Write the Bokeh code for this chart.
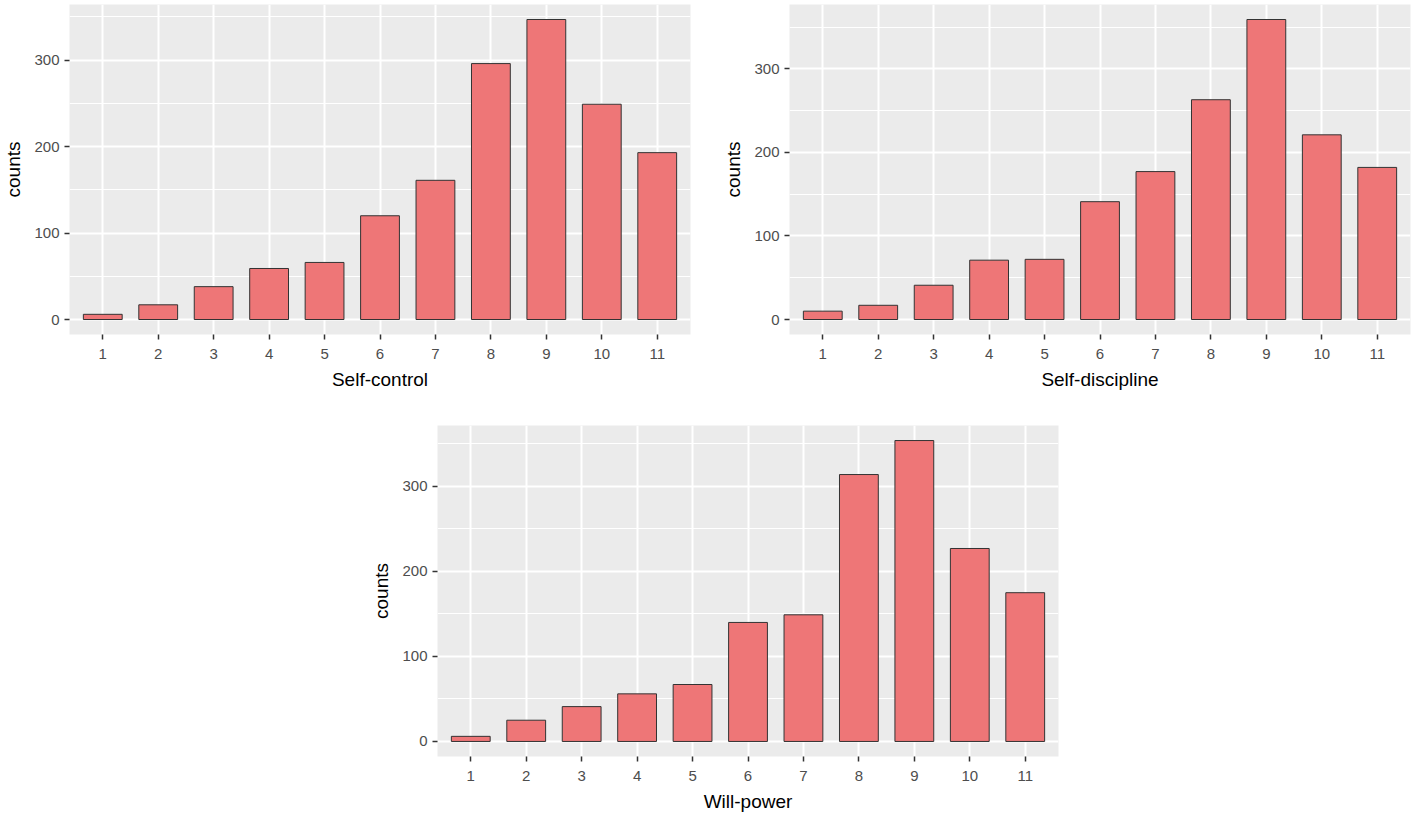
from bokeh.plotting import figure
from bokeh.layouts import column, row
from bokeh.models import Range1d, FixedTicker, Spacer
from bokeh.embed import file_html
from bokeh.resources import INLINE

# ---- data ----
scores = [1, 2, 3, 4, 5, 6, 7, 8, 9, 10, 11]
score_labels = ["1", "2", "3", "4", "5", "6", "7", "8", "9", "10", "11"]
self_control = [6, 17, 38, 59, 66, 120, 161, 296, 347, 249, 193]
self_discipline = [10, 17, 41, 71, 72, 141, 177, 263, 359, 221, 182]
will_power = [6, 25, 41, 56, 67, 140, 149, 314, 354, 227, 175]
y_ticks = [0, 100, 200, 300]
y_minor = [50, 150, 250, 350]

FONT = "Liberation Sans"
BAR_FILL = "#EE7677"
BAR_LINE = "#333333"
PANEL_BG = "#EBEBEB"


def make_panel(values, xlabel, left, right, top, bottom, fh):
    vmax = max(values)
    p = figure(
        frame_width=621, frame_height=fh,
        output_backend="svg", toolbar_location=None,
        x_range=Range1d(0.4, 11.6),
        y_range=Range1d(-0.05 * vmax, 1.05 * vmax),
        min_border_left=left, min_border_right=right,
        min_border_top=top, min_border_bottom=bottom,
    )
    p.background_fill_color = PANEL_BG
    p.border_fill_color = "white"
    p.outline_line_color = None

    p.vbar(x=scores, top=values, bottom=0, width=0.7,
           fill_color=BAR_FILL, line_color=BAR_LINE, line_width=1)

    p.xaxis.ticker = FixedTicker(ticks=scores)
    p.xaxis.major_label_overrides = {s: l for s, l in zip(scores, score_labels)}
    p.yaxis.ticker = FixedTicker(ticks=y_ticks, minor_ticks=y_minor)

    for ax in (p.xaxis, p.yaxis):
        ax.axis_line_color = None
        ax.major_tick_line_color = "#333333"
        ax.major_tick_line_width = 1.5
        ax.major_tick_out = 5
        ax.major_tick_in = 0
        ax.minor_tick_line_color = None
        ax.major_label_text_font = FONT
        ax.major_label_text_font_size = "15px"
        ax.major_label_text_color = "#4D4D4D"
        ax.axis_label_text_font = FONT
        ax.axis_label_text_font_size = "19px"
        ax.axis_label_text_font_style = "normal"
        ax.axis_label_text_color = "black"
        ax.axis_label_standoff = 7
    p.xaxis.major_label_standoff = 9
    p.yaxis.major_label_standoff = 5

    p.xaxis.axis_label = xlabel
    p.yaxis.axis_label = "counts"

    p.xgrid.grid_line_color = "white"
    p.xgrid.grid_line_width = 2
    p.ygrid.grid_line_color = "white"
    p.ygrid.grid_line_width = 2
    p.ygrid.minor_grid_line_color = "white"
    p.ygrid.minor_grid_line_width = 1
    return p


p1 = make_panel(self_control, "Self-control", left=69, right=20, top=4, bottom=60, fh=330)
p2 = make_panel(self_discipline, "Self-discipline", left=79, right=5, top=4, bottom=60, fh=330)
p3 = make_panel(will_power, "Will-power", left=69, right=10, top=31, bottom=58, fh=331)

layout = column(row(p1, p2), row(Spacer(width=368, height=10), p3))

open("out.html", "w").write(file_html(layout, INLINE))
